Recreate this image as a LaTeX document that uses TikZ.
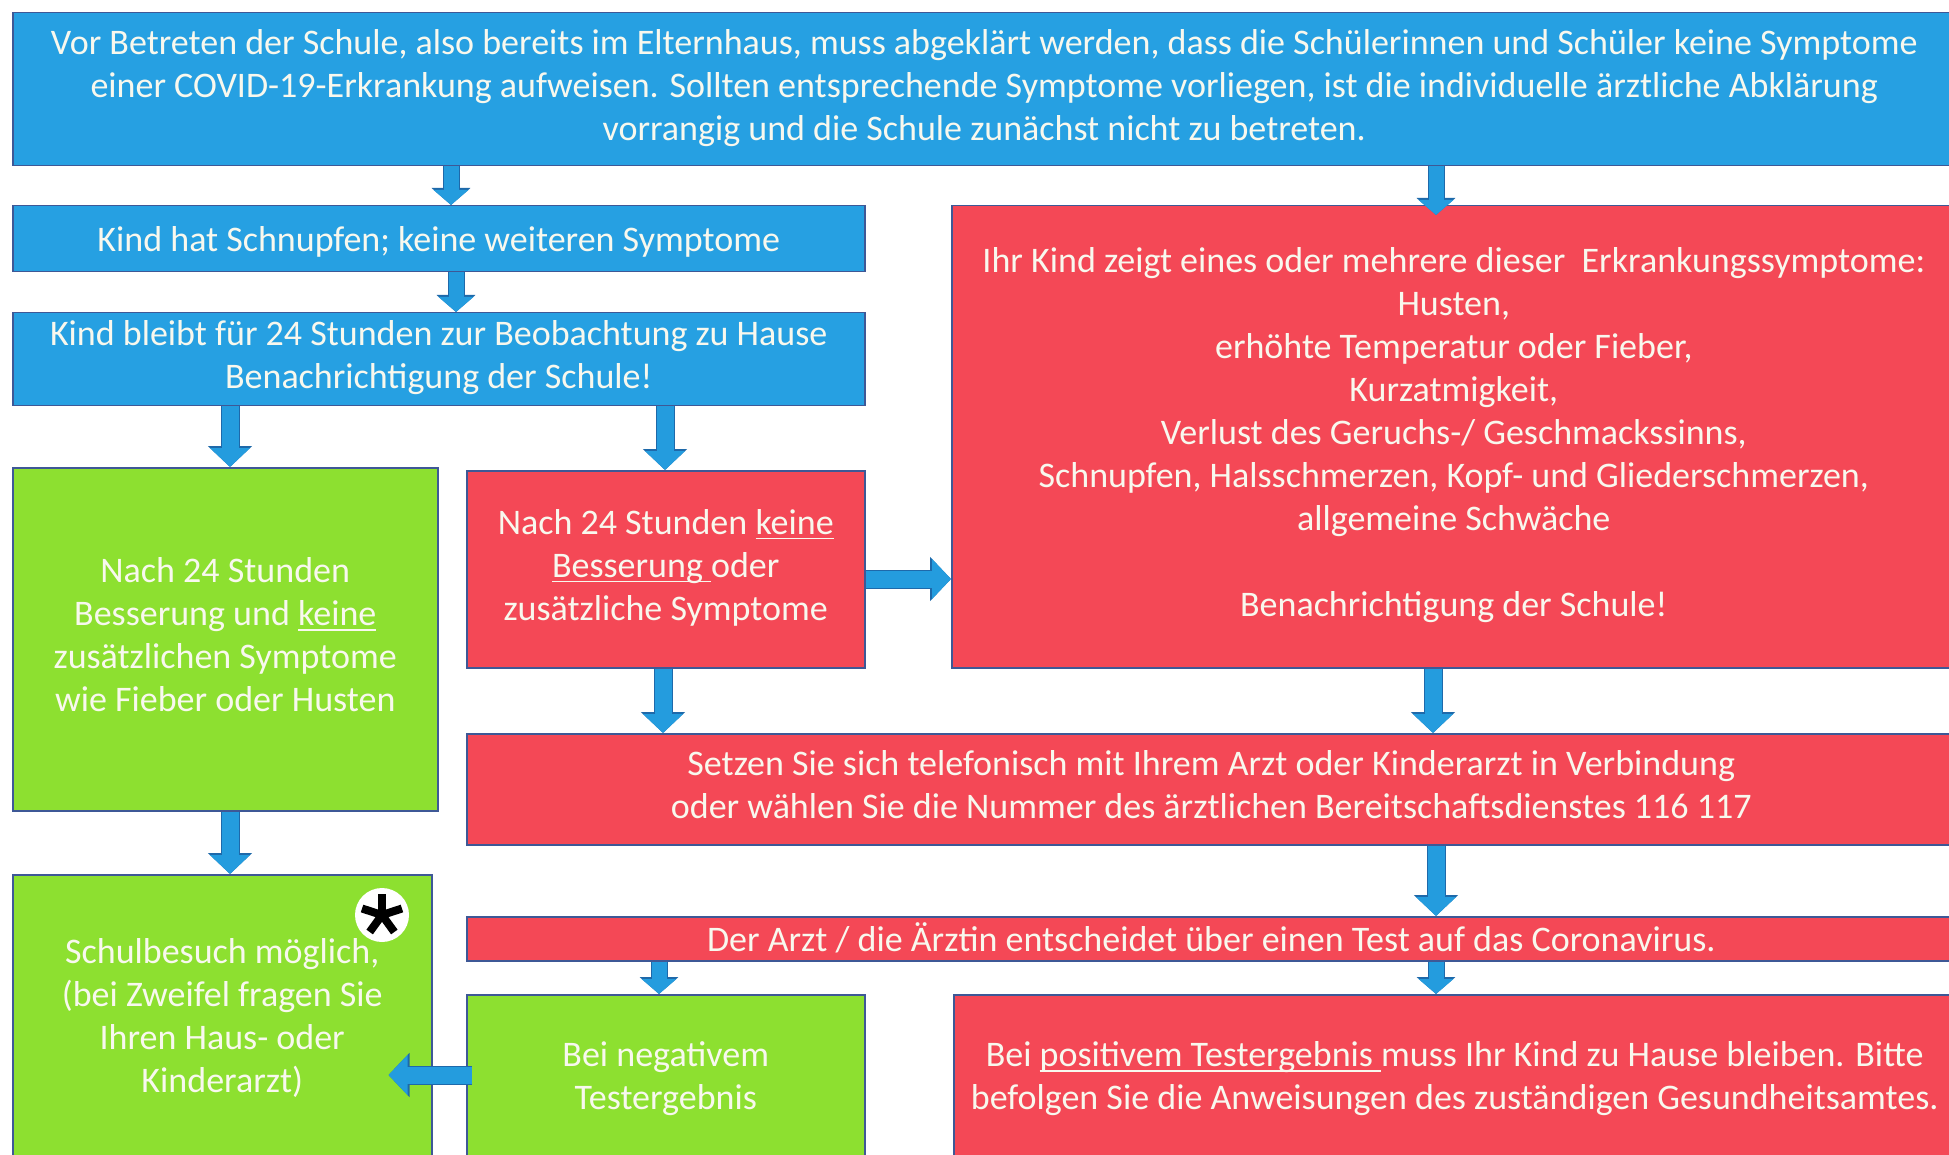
\documentclass[tikz,border=0pt]{standalone}
\usepackage{fontspec}
\setmainfont{Carlito}
\usetikzlibrary{arrows.meta}
\definecolor{boxblue}{RGB}{38,160,226}
\definecolor{boxgreen}{RGB}{141,224,48}
\definecolor{boxred}{RGB}{244,72,86}
\definecolor{boxedge}{RGB}{62,88,150}
\definecolor{arrblue}{RGB}{36,156,222}
\definecolor{arredge}{RGB}{30,105,170}
\definecolor{txt}{RGB}{248,248,238}
\newcommand\strich[1]{\setbox0\hbox{#1}\rlap{\rule[-5pt]{\wd0}{1.5pt}}\box0}
\tikzset{
  box/.style={draw=boxedge,line width=1.5pt,text=txt,align=center,inner sep=0pt,
    anchor=north west,font=\fontsize{36}{43}\selectfont,
    execute at begin node={\rule{0pt}{35pt}},
    execute at end node={\rule[-9pt]{0pt}{9pt}}},
  bluebox/.style={box,fill=boxblue},
  greenbox/.style={box,fill=boxgreen},
  redbox/.style={box,fill=boxred},
  arr/.style={draw=arrblue,line width=15pt,-{Triangle[width=34pt,length=15pt]},
    preaction={draw=arredge,line width=17pt,-{Triangle[width=38pt,length=17pt]}}},
  bigarr/.style={draw=arrblue,line width=17pt,-{Triangle[width=39pt,length=19pt]},
    preaction={draw=arredge,line width=19pt,-{Triangle[width=43pt,length=21pt]}}}
}
\begin{document}
\begin{tikzpicture}[x=1pt,y=-1pt]
\useasboundingbox (0,0) rectangle (1949,1155);
\clip (0,0) rectangle (1949,1155);
\fill[white] (0,0) rectangle (1949,1155);
%first check at home
\node[bluebox,minimum width=1943pt,minimum height=153pt] (top) at (12,12)
  {Vor Betreten der Schule, also bereits im Elternhaus, muss abgeklärt werden, dass die Schülerinnen und Schüler keine Symptome\\
   einer COVID-19-Erkrankung aufweisen. Sollten entsprechende Symptome vorliegen, ist die individuelle ärztliche Abklärung\\
   vorrangig und die Schule zunächst nicht zu betreten.};
%left branch: only a cold
\node[bluebox,minimum width=852pt,minimum height=66pt] (schnupfen) at (12,205)
  {Kind hat Schnupfen; keine weiteren Symptome};
\node[bluebox,minimum width=852pt,minimum height=93pt] (beobachtung) at (12,312)
  {Kind bleibt für 24 Stunden zur Beobachtung zu Hause\\ Benachrichtigung der Schule!};
\node[greenbox,minimum width=425pt,minimum height=343pt] (besserung) at (12,467)
  {Nach 24 Stunden\\ Besserung und \strich{keine}\\ zusätzlichen Symptome\\ wie Fieber oder Husten};
\node[redbox,minimum width=398pt,minimum height=197pt] (keinebess) at (466,470)
  {Nach 24 Stunden \strich{keine}\\ \strich{Besserung }oder\\ zusätzliche Symptome};
%right branch: symptoms
\node[redbox,minimum width=1004pt,minimum height=462pt] (symptome) at (951,205)
  {Ihr Kind zeigt eines oder mehrere dieser~ Erkrankungssymptome:\\
   Husten,\\ erhöhte Temperatur oder Fieber,\\ Kurzatmigkeit,\\
   Verlust des Geruchs-/ Geschmackssinns,\\
   Schnupfen, Halsschmerzen, Kopf- und Gliederschmerzen,\\
   allgemeine Schwäche\\[43pt] Benachrichtigung der Schule!};
\node[redbox,minimum width=1489pt,minimum height=111pt] (arzt) at (466,733)
  {Setzen Sie sich telefonisch mit Ihrem Arzt oder Kinderarzt in Verbindung\\
   oder wählen Sie die Nummer des ärztlichen Bereitschaftsdienstes 116 117};
\node[redbox,minimum width=1489pt,minimum height=40pt] (test) at (466,916)
  {Der Arzt / die Ärztin entscheidet über einen Test auf das Coronavirus.};
%results
\node[greenbox,minimum width=419pt,minimum height=291pt] (schulbesuch) at (12,874)
  {Schulbesuch möglich,\\ (bei Zweifel fragen Sie\\ Ihren Haus- oder\\ Kinderarzt)};
\node[greenbox,minimum width=398pt,minimum height=171pt] (negativ) at (466,994)
  {Bei negativem\\ Testergebnis};
\node[redbox,minimum width=1002pt,minimum height=171pt] (positiv) at (953,994)
  {Bei \strich{positivem Testergebnis }muss Ihr Kind zu Hause bleiben. Bitte\\
   befolgen Sie die Anweisungen des zuständigen Gesundheitsamtes.};
%asterisk
\node[circle,fill=white,minimum size=54pt,inner sep=0pt] (stern) at (382,915) {};
\foreach \a in {-90,-18,54,126,198}
  \draw[line width=8pt] (stern.center) -- ++(\a:21);
%arrows
\draw[arr] (top.south -| 451,0) -- (schnupfen.north -| 451,0);
\draw[arr] (top.south -| 1436,0) -- (symptome.north -| 1436,0) -- ++(0,10);
\draw[arr] (schnupfen.south -| 456,0) -- (beobachtung.north -| 456,0);
\draw[bigarr] (beobachtung.south -| 230,0) -- (besserung.north -| 230,0);
\draw[bigarr] (beobachtung.south -| 665,0) -- (keinebess.north -| 665,0);
\draw[bigarr] (keinebess.east |- 0,579) -- (symptome.west |- 0,579);
\draw[bigarr] (keinebess.south -| 663,0) -- (arzt.north -| 663,0);
\draw[bigarr] (symptome.south -| 1433,0) -- (arzt.north -| 1433,0);
\draw[bigarr] (besserung.south -| 230,0) -- (schulbesuch.north -| 230,0);
\draw[bigarr] (arzt.south -| 1436,0) -- (test.north -| 1436,0);
\draw[arr] (test.south -| 659,0) -- (negativ.north -| 659,0);
\draw[arr] (test.south -| 1436,0) -- (positiv.north -| 1436,0);
\draw[bigarr,shorten <=-6pt,shorten >=-44pt] (negativ.west |- 0,1075) -- (schulbesuch.east |- 0,1075);
\end{tikzpicture}
\end{document}
